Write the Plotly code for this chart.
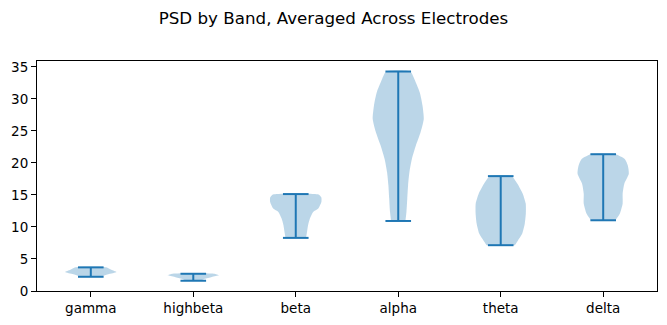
import plotly.graph_objects as go

bands = ["gamma", "highbeta", "beta", "alpha", "theta", "delta"]

# Density profiles: value levels and half-widths (x units)
gamma_y = [2.22, 2.6, 2.95, 3.3, 3.69]
gamma_w = [0.10, 0.17, 0.25, 0.20, 0.15]

highbeta_y = [1.60, 1.9, 2.2, 2.44, 2.69]
highbeta_w = [0.07, 0.11, 0.18, 0.25, 0.20]

beta_y = [8.29, 9.22, 10.26, 11.3, 12.34, 12.86, 13.88, 14.6, 15.0, 15.13]
beta_w = [0.10, 0.11, 0.12, 0.138, 0.17, 0.22, 0.25, 0.25, 0.23, 0.19]

alpha_y = [10.93, 12.33, 14.4, 16.5, 18.55, 20.6, 22.7, 24.78, 26.86, 28.93, 31.0, 33.07, 34.26]
alpha_w = [0.07, 0.08, 0.088, 0.096, 0.109, 0.133, 0.172, 0.218, 0.249, 0.237, 0.21, 0.158, 0.117]

theta_y = [7.15, 7.93, 8.97, 10.53, 12.08, 13.64, 15.19, 16.75, 17.93]
theta_w = [0.138, 0.17, 0.21, 0.235, 0.245, 0.244, 0.215, 0.163, 0.106]

delta_y = [11.04, 12.08, 13.64, 15.2, 16.75, 18.3, 19.6, 20.6, 21.35]
delta_w = [0.12, 0.163, 0.19, 0.19, 0.206, 0.25, 0.24, 0.21, 0.12]

profiles = [
    (gamma_y, gamma_w),
    (highbeta_y, highbeta_w),
    (beta_y, beta_w),
    (alpha_y, alpha_w),
    (theta_y, theta_w),
    (delta_y, delta_w),
]

positions = [1, 2, 3, 4, 5, 6]
y_ticks = [0, 5, 10, 15, 20, 25, 30, 35]

body_color = "rgba(31,119,180,0.3)"
line_color = "#1f77b4"
cap_half = 0.125

fig = go.Figure()

for pos, (ys, ws) in zip(positions, profiles):
    xs = [pos + w for w in ws] + [pos - w for w in reversed(ws)]
    yy = list(ys) + list(reversed(ys))
    fig.add_trace(go.Scatter(
        x=xs, y=yy, mode="lines", fill="toself", fillcolor=body_color,
        line=dict(width=0, color=body_color, shape="spline", smoothing=0.6),
        hoverinfo="skip", showlegend=False))

for pos, (ys, ws) in zip(positions, profiles):
    lo, hi = min(ys), max(ys)
    fig.add_trace(go.Scatter(
        x=[pos, pos, None, pos - cap_half, pos + cap_half, None, pos - cap_half, pos + cap_half],
        y=[lo, hi, None, hi, hi, None, lo, lo],
        mode="lines", line=dict(color=line_color, width=2),
        hoverinfo="skip", showlegend=False))

axis_common = dict(
    showline=True, linecolor="black", linewidth=1, mirror=True,
    ticks="outside", ticklen=5, tickwidth=1, tickcolor="black",
    showgrid=False, zeroline=False,
    tickfont=dict(family="DejaVu Sans", size=13.5, color="black"),
)

fig.update_layout(
    width=667, height=325,
    margin=dict(l=37, r=10, t=61, b=34),
    paper_bgcolor="white", plot_bgcolor="white",
    title=dict(text="PSD by Band, Averaged Across Electrodes",
               x=0.5, xanchor="center", xref="container",
               y=1 - 18 / 325, yanchor="middle", yref="container",
               font=dict(family="DejaVu Sans", size=16.7, color="black")),
    xaxis=dict(range=[0.475, 6.525], tickvals=positions, ticktext=bands, **axis_common),
    yaxis=dict(range=[0, 35.9], tickvals=y_ticks, **axis_common),
)

fig.write_html("out.html")
